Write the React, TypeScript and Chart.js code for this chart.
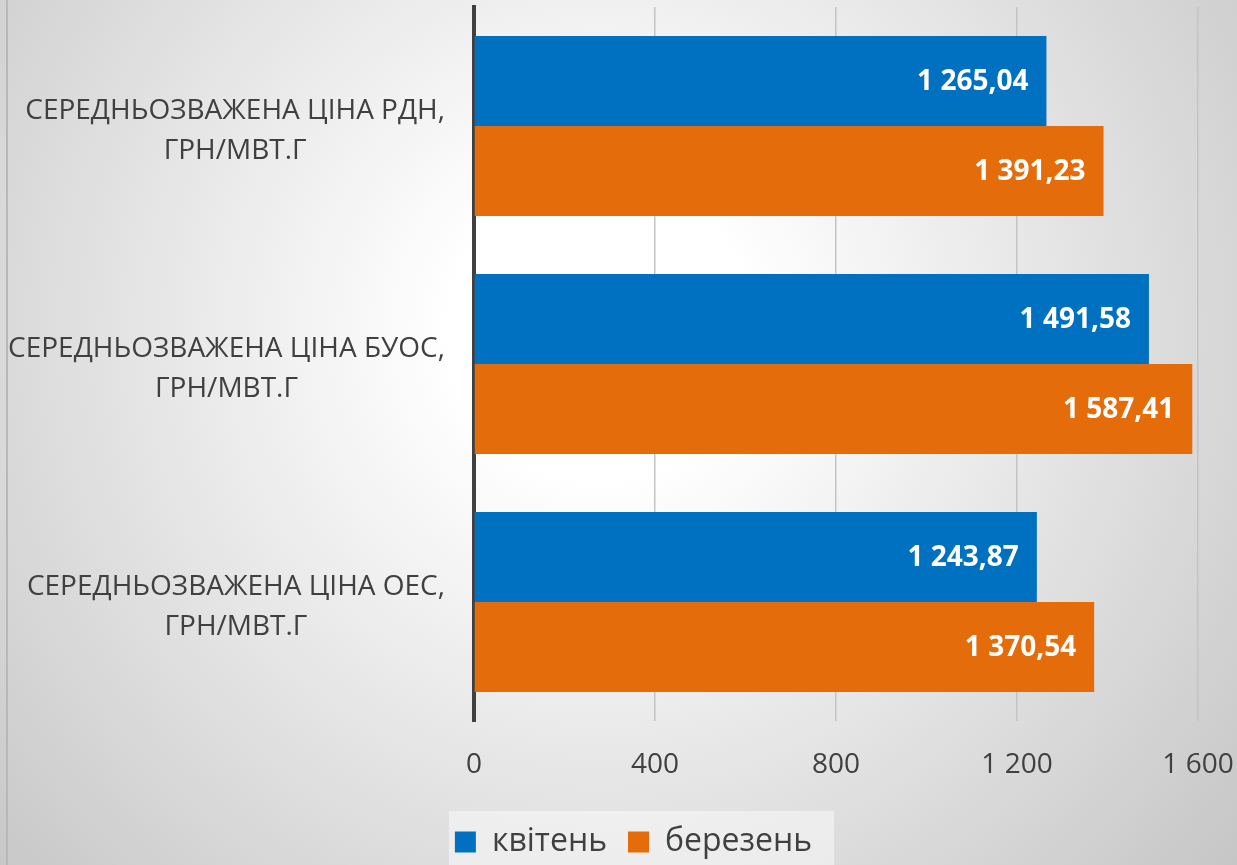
import React, { useEffect, useRef } from "react";
import { Chart, registerables } from "chart.js";

Chart.register(...registerables);

const categories: string[][] = [
  ["СЕРЕДНЬОЗВАЖЕНА ЦІНА РДН,", "ГРН/МВТ.Г"],
  ["СЕРЕДНЬОЗВАЖЕНА ЦІНА БУОС,", "ГРН/МВТ.Г"],
  ["СЕРЕДНЬОЗВАЖЕНА ЦІНА ОЕС,", "ГРН/МВТ.Г"],
];
const seriesNames = ["квітень", "березень"];
const aprilValues = [1265.04, 1491.58, 1243.87];
const marchValues = [1391.23, 1587.41, 1370.54];
const xMin = 0;
const xMax = 1600;
const xStep = 400;
const seriesColors = ["#0070C0", "#E46C0A"];

const FONT = "'Open Sans', 'DejaVu Sans', sans-serif";
const TEXT = "#404040";

function fmt(v: number, dec: number): string {
  const s = v.toFixed(dec);
  const [i, d] = s.split(".");
  const ig = i.replace(/\B(?=(\d{3})+(?!\d))/g, " ");
  return d ? ig + "," + d : ig;
}

const dataLabelPlugin = {
  id: "dataLabels",
  afterDatasetsDraw(chart: any) {
    const ctx = chart.ctx;
    ctx.save();
    ctx.font = `bold 28px ${FONT}`;
    ctx.fillStyle = "#ffffff";
    ctx.textAlign = "right";
    ctx.textBaseline = "middle";
    chart.data.datasets.forEach((ds: any, di: number) => {
      const meta = chart.getDatasetMeta(di);
      meta.data.forEach((el: any, i: number) => {
        ctx.fillText(fmt(ds.data[i], 2), el.x - 18, el.y + 1);
      });
    });
    ctx.restore();
  },
};

const categoryLabelPlugin = {
  id: "categoryLabels",
  afterDraw(chart: any) {
    const ys = chart.scales.y;
    const ctx = chart.ctx;
    ctx.save();
    ctx.font = `28px ${FONT}`;
    ctx.fillStyle = TEXT;
    ctx.textAlign = "center";
    ctx.textBaseline = "alphabetic";
    const rightEdge = ys.right - 29;
    (chart.data.labels as string[][]).forEach((lines, i) => {
      const yc = ys.getPixelForValue(i);
      const widest = Math.max(...lines.map((l) => ctx.measureText(l).width));
      const cx = rightEdge - widest / 2;
      lines.forEach((l, k) => {
        ctx.fillText(l, cx, yc - 7 + k * 40);
      });
    });
    ctx.restore();
  },
};

const legendBgPlugin = {
  id: "legendBg",
  beforeDraw(chart: any) {
    const lg = chart.legend;
    if (!lg || !lg.legendHitBoxes || !lg.legendHitBoxes.length) return;
    const hb = lg.legendHitBoxes;
    const left = hb[0].left - 6;
    const last = hb[hb.length - 1];
    const right = last.left + last.width + 22;
    const ctx = chart.ctx;
    ctx.save();
    ctx.fillStyle = "rgba(255,255,255,0.45)";
    ctx.fillRect(left, 811, right - left, 60);
    ctx.restore();
  },
};

export default function App() {
  const ref = useRef<HTMLCanvasElement | null>(null);

  useEffect(() => {
    document.body.style.margin = "0";
    if (!ref.current) return;
    const chart = new Chart(ref.current, {
      type: "bar",
      data: {
        labels: categories as any,
        datasets: [
          {
            label: seriesNames[0],
            data: aprilValues,
            backgroundColor: seriesColors[0],
            borderWidth: 0,
            barPercentage: 1,
            categoryPercentage: 0.756,
          },
          {
            label: seriesNames[1],
            data: marchValues,
            backgroundColor: seriesColors[1],
            borderWidth: 0,
            barPercentage: 1,
            categoryPercentage: 0.756,
          },
        ],
      },
      options: {
        indexAxis: "y",
        animation: false,
        responsive: false,
        maintainAspectRatio: false,
        layout: { padding: { left: 69, right: 39, top: 7, bottom: 7 } },
        scales: {
          x: {
            min: xMin,
            max: xMax,
            afterFit: (s: any) => {
              s.height = 84;
            },
            ticks: {
              stepSize: xStep,
              padding: 0,
              color: TEXT,
              font: { family: FONT, size: 28, lineHeight: "88px" },
              callback: (v: any) => fmt(Number(v), 0),
              maxRotation: 0,
            },
            grid: {
              color: "#c4c4c4",
              lineWidth: 1.5,
              drawTicks: false,
            },
            border: { display: false },
          },
          y: {
            afterFit: (s: any) => {
              s.width = 405;
            },
            ticks: { display: false },
            grid: { display: false, drawTicks: false },
            border: { display: true, color: "#404040", width: 4 },
          },
        },
        plugins: {
          legend: {
            position: "bottom",
            labels: {
              boxWidth: 21,
              boxHeight: 21,
              padding: 21,
              color: TEXT,
              font: { family: FONT, size: 32 },
            },
          },
          tooltip: { enabled: false },
        },
      },
      plugins: [dataLabelPlugin, categoryLabelPlugin, legendBgPlugin],
    } as any);
    return () => chart.destroy();
  }, []);

  return (
    <div
      style={{
        position: "relative",
        width: 1237,
        height: 865,
        overflow: "hidden",
        background:
          "radial-gradient(circle at 600px 330px, #ffffff 0px, #ffffff 150px, #c0c0c0 900px)",
      }}
    >
      <div
        style={{
          position: "absolute",
          left: 6,
          top: 0,
          width: 2,
          height: 865,
          background: "#b8b8b8",
        }}
      />
      <canvas
        ref={ref}
        width={1237}
        height={875}
        style={{ position: "absolute", left: 0, top: 0, width: 1237, height: 875 }}
      />
    </div>
  );
}
